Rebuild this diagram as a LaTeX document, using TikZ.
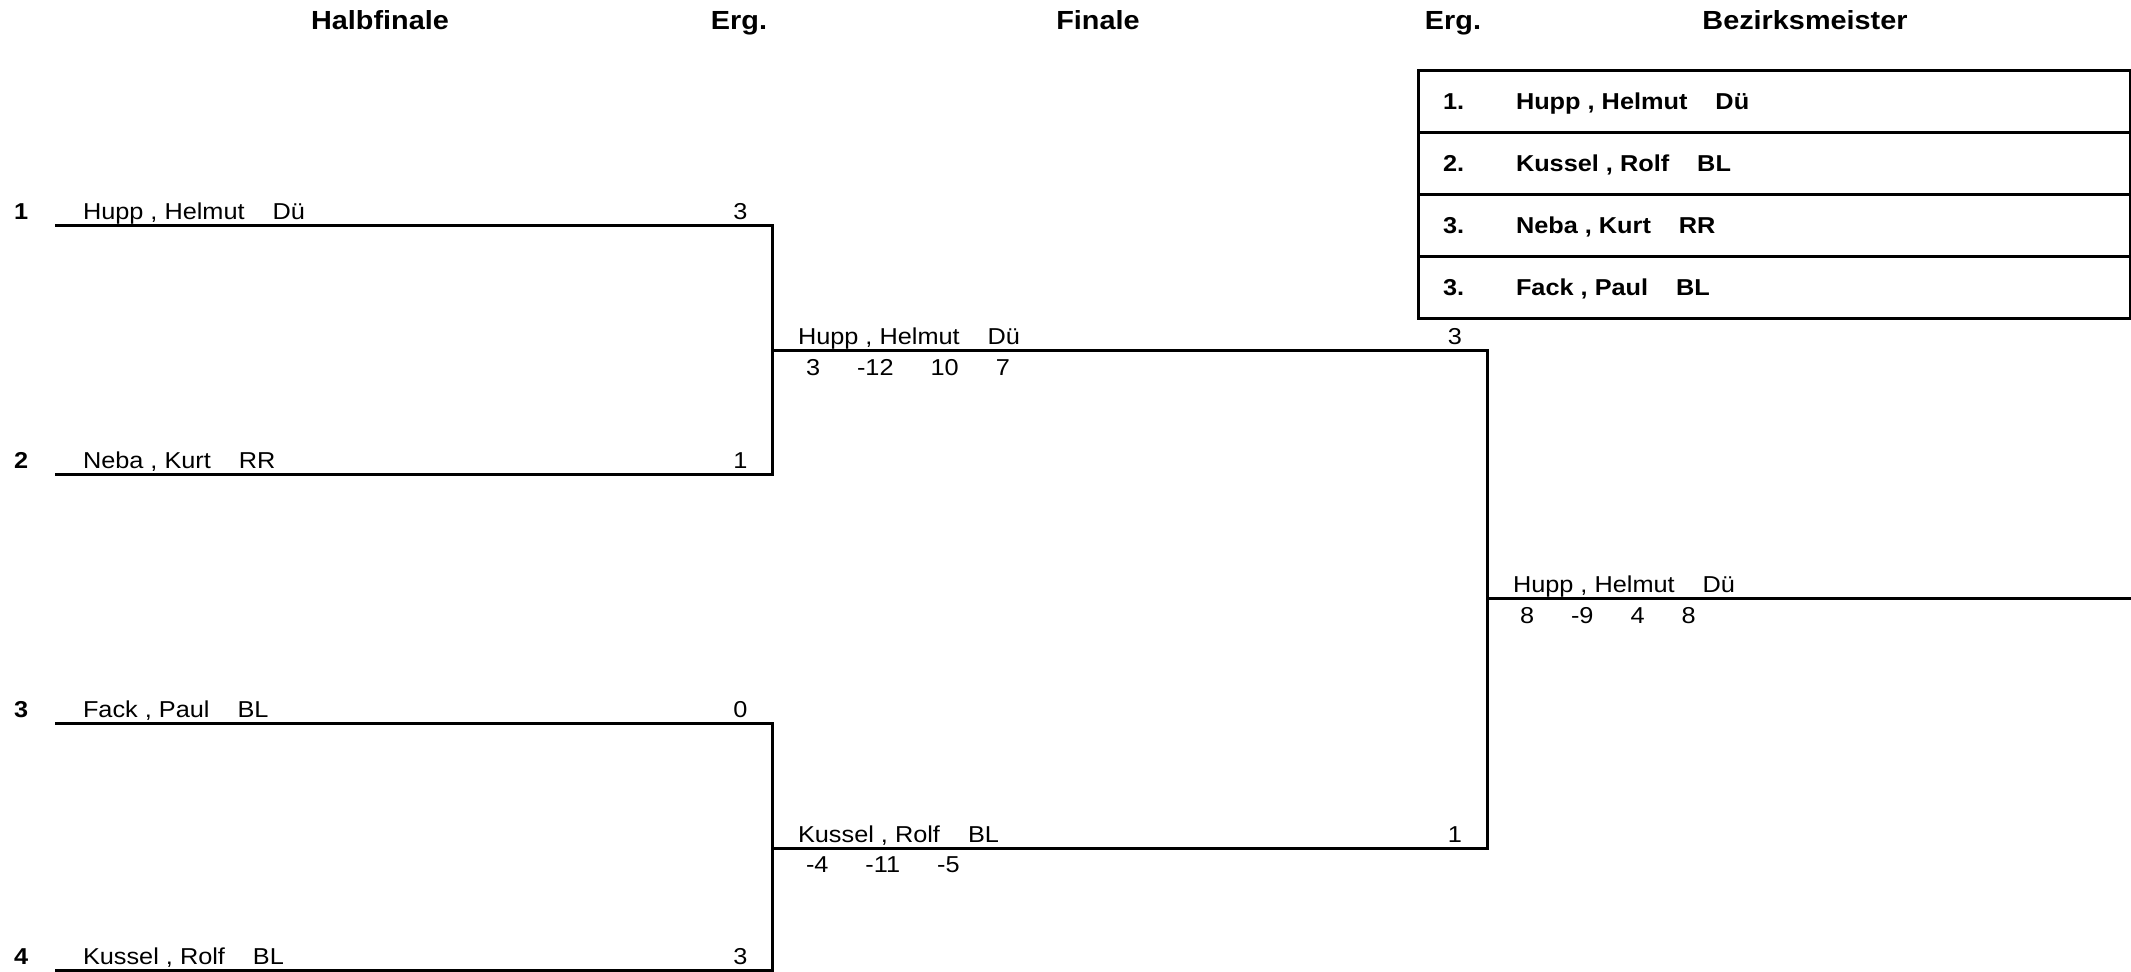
\documentclass[tikz,border=0pt]{standalone}
\usepackage{fontspec}
\setmainfont{Liberation Sans}[FakeStretch=1.1]
\newcommand{\cg}{\hspace{14pt}}
\newcommand{\sg}{\hspace{18.5pt}}
\begin{document}
\begin{tikzpicture}[x=0.5pt,y=-0.5pt,
 ln/.style={line width=1.5pt, line join=miter},
 txt/.style={inner sep=0pt, outer sep=0pt, anchor=base west, font=\fontsize{11.5pt}{13.5pt}\selectfont},
 btxt/.style={txt, font=\fontsize{11.5pt}{13.5pt}\selectfont\bfseries},
 ergtxt/.style={txt, anchor=base east},
 head/.style={inner sep=0pt, outer sep=0pt, anchor=base, font=\fontsize{13.1pt}{15.5pt}\selectfont\bfseries}]
\useasboundingbox (0,0) rectangle (2131,972);
% headers
\node[head] (hHalb) at (380,29.3) {Halbfinale};
\node[head] (hErg1) at (739,29.3) {Erg.};
\node[head] (hFin) at (1098,29.3) {Finale};
\node[head] (hErg2) at (1453,29.3) {Erg.};
\node[head] (hBez) at (1805,29.3) {Bezirksmeister};
% seeds
\node[btxt] (s1) at (14,219.5) {1};
\node[btxt] (s2) at (14,469) {2};
\node[btxt] (s3) at (14,717) {3};
\node[btxt] (s4) at (14,964) {4};
% semifinal players
\node[txt] (p1) at (83,219.5) {Hupp , Helmut\cg Dü};
\node[txt] (p2) at (83,469) {Neba , Kurt\cg RR};
\node[txt] (p3) at (83,717) {Fack , Paul\cg BL};
\node[txt] (p4) at (83,964) {Kussel , Rolf\cg BL};
\node[ergtxt] (e1) at (747.5,219.5) {3};
\node[ergtxt] (e2) at (747.5,469) {1};
\node[ergtxt] (e3) at (747.5,717) {0};
\node[ergtxt] (e4) at (747.5,964) {3};
% final
\node[txt] (f1) at (798,345) {Hupp , Helmut\cg Dü};
\node[txt] (f1s) at (806,375.5) {3\sg-12\sg10\sg7};
\node[txt] (f2) at (798,842) {Kussel , Rolf\cg BL};
\node[txt] (f2s) at (806,872.5) {-4\sg-11\sg-5};
\node[ergtxt] (fe1) at (1462,345) {3};
\node[ergtxt] (fe2) at (1462,842) {1};
% winner
\node[txt] (w) at (1513,593) {Hupp , Helmut\cg Dü};
\node[txt] (ws) at (1520,623.5) {8\sg-9\sg4\sg8};
% ranking box
\draw[ln] (1418,71) rectangle (2130,319);
\foreach \yy in {133,195,257} \draw[ln] (1418,\yy) -- (2130,\yy);
\node[btxt] (r1) at (1443,110) {1.};
\node[btxt] (b1) at (1516,110) {Hupp , Helmut\cg Dü};
\node[btxt] (r2) at (1443,172) {2.};
\node[btxt] (b2) at (1516,172) {Kussel , Rolf\cg BL};
\node[btxt] (r3) at (1443,234) {3.};
\node[btxt] (b3) at (1516,234) {Neba , Kurt\cg RR};
\node[btxt] (r4) at (1443,296) {3.};
\node[btxt] (b4) at (1516,296) {Fack , Paul\cg BL};
% bracket lines
\coordinate (a1) at (55,225.5);
\coordinate (a2) at (55,475);
\coordinate (a3) at (55,723);
\coordinate (a4) at (55,970);
\coordinate (j1) at (772,225.5);
\coordinate (j2) at (772,475);
\coordinate (j3) at (772,723);
\coordinate (j4) at (772,970);
\coordinate (k1) at (772,351);
\coordinate (k2) at (772,848);
\coordinate (l1) at (1487,351);
\coordinate (l2) at (1487,848);
\coordinate (l3) at (1487,599);
\coordinate (wend) at (2131,599);
\draw[ln] (a1) -- (j1) -- (j2) -- (a2);
\draw[ln] (a3) -- (j3) -- (j4) -- (a4);
\draw[ln] (k1) -- (l1) -- (l2) -- (k2);
\draw[ln] (l3) -- (wend);
\end{tikzpicture}
\end{document}
